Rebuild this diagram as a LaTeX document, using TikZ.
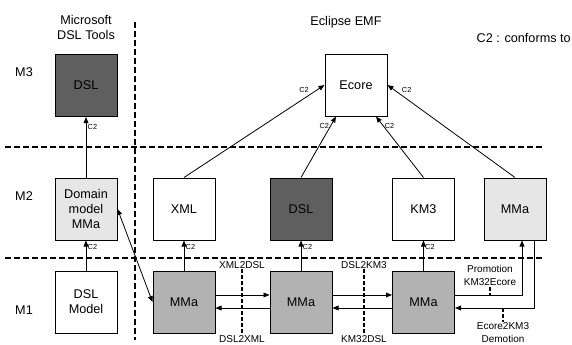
\documentclass[tikz,border=0pt]{standalone}
\usepackage{fontspec}
\setmainfont{Liberation Sans}
\usetikzlibrary{arrows.meta}
\definecolor{dslgray}{HTML}{5F5F5F}
\definecolor{mmagray}{HTML}{B2B2B2}
\definecolor{metagray}{HTML}{E6E6E6}
\tikzset{
  box/.style={draw,line width=0.75pt,minimum width=46.5pt,minimum height=46.5pt,inner sep=1pt,align=center,font=\fontsize{9.5}{11.25}\selectfont},
  conf/.style={->,line width=0.6pt},
  levelsep/.style={line width=1.1pt,dash pattern=on 4.5pt off 2.25pt},
  cut/.style={line width=0.9pt,dash pattern=on 3pt off 1.5pt},
  ctwo/.style={font=\fontsize{5.5}{6}\selectfont,inner sep=1pt},
  trafo/.style={font=\fontsize{7.5}{9.75}\selectfont,inner sep=0.5pt,align=center},
  title/.style={font=\fontsize{9.5}{11.25}\selectfont,align=center,inner sep=0pt}
}
\begin{document}
\begin{tikzpicture}[x=0.75pt,y=-0.75pt,>={Triangle[length=4.5pt,width=3.6pt]}]
\useasboundingbox (0,0) rectangle (572,344);
\draw[levelsep] (5,147) -- (545,147);
\draw[levelsep] (5,258) -- (545,258);
\draw[levelsep] (135,22) -- (135,340);

\node[title] (mstools) at (86,27.5) {Microsoft\\DSL Tools};
\node[title] (emf) at (346,22) {Eclipse EMF};
\node[title,anchor=east] (legend) at (571,38) {C2 : conforms to};
\node[title] (m3) at (24,72) {M3};
\node[title] (m2) at (24,196) {M2};
\node[title] (m1) at (24,310) {M1};

\node[box,fill=dslgray] (msdsl) at (86,85.5) {DSL};
\node[box,fill=metagray] (dommodel) at (86,209) {Domain\\model\\MMa};
\node[box] (dslmodel) at (86,302) {DSL\\Model};
\node[box] (ecore) at (356,85) {Ecore};
\node[box] (xml) at (184,209) {XML};
\node[box,fill=dslgray] (dsl) at (301,209) {DSL};
\node[box] (km3) at (423.5,209) {KM3};
\node[box,fill=metagray] (mmaecore) at (515,209) {MMa};
\node[box,fill=mmagray] (mmaxml) at (184,302) {MMa};
\node[box,fill=mmagray] (mmadsl) at (301,302) {MMa};
\node[box,fill=mmagray] (mmakm3) at (423.5,302) {MMa};

\draw[conf] (dommodel) -- (msdsl) node[ctwo,pos=0.84,right] {C2};
\draw[conf] (dslmodel) -- (dommodel) node[ctwo,pos=0.77,right] {C2};
\draw[conf] (mmaxml) -- (xml) node[ctwo,pos=0.77,right] {C2};
\draw[conf] (mmadsl) -- (dsl) node[ctwo,pos=0.77,right] {C2};
\draw[conf] (mmakm3) -- (km3) node[ctwo,pos=0.77,right] {C2};
\draw[conf] (xml.north) -- (ecore.west) node[ctwo,pos=0.9,above left] {C2};
\draw[conf] (dsl.north) -- ([xshift=-15pt]ecore.south) node[ctwo,pos=0.85,left] {C2};
\draw[conf] (km3.north) -- ([xshift=15pt]ecore.south) node[ctwo,pos=0.85,right] {C2};
\draw[conf] (mmaecore.north) -- (ecore.east) node[ctwo,pos=0.9,above right] {C2};
\draw[conf,<->] (dommodel.east) -- (mmaxml.west);

\draw[conf] ([yshift=5.25pt]mmaxml.east) -- ([yshift=5.25pt]mmadsl.west);
\draw[conf] ([yshift=-4.5pt]mmadsl.west) -- ([yshift=-4.5pt]mmaxml.east);
\draw[conf] ([yshift=5.25pt]mmadsl.east) -- ([yshift=5.25pt]mmakm3.west);
\draw[conf] ([yshift=-4.5pt]mmakm3.west) -- ([yshift=-4.5pt]mmadsl.east);
\draw[conf] ([yshift=5.25pt]mmakm3.east) -| ([xshift=5.25pt]mmaecore.south);
\draw[conf] ([xshift=14.25pt]mmaecore.south) |- ([yshift=-4.5pt]mmakm3.east);

\node[trafo] (xml2dsl) at (242,265) {XML2DSL};
\node[trafo] (dsl2xml) at (242,339) {DSL2XML};
\draw[cut] (xml2dsl) -- (dsl2xml);
\node[trafo] (dsl2km3) at (364,265) {DSL2KM3};
\node[trafo] (km32dsl) at (364,339) {KM32DSL};
\draw[cut] (dsl2km3) -- (km32dsl);

\node[trafo] (promo) at (490,275.5) {Promotion\\KM32Ecore};
\node[trafo] (demo) at (503,332.5) {Ecore2KM3\\Demotion};
\coordinate (promoline) at ([yshift=5.25pt]mmakm3.east);
\coordinate (demoline) at ([yshift=-4.5pt]mmakm3.east);
\draw[cut] (promo) -- (promo |- promoline);
\draw[cut] (demoline -| demo) -- (demo);
\end{tikzpicture}
\end{document}
